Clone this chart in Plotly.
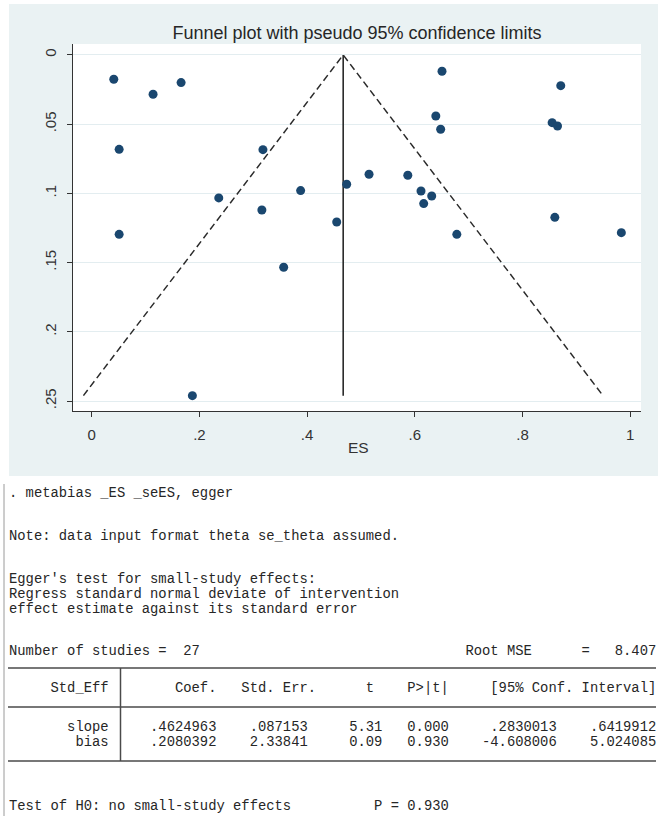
import plotly.graph_objects as go

# ---------------- data ----------------
es = [0.041, 0.114, 0.166, 0.051, 0.318, 0.236, 0.316, 0.388, 0.051,
      0.6505, 0.871, 0.639, 0.648, 0.855, 0.865, 0.4735, 0.515, 0.587,
      0.6115, 0.6314, 0.6165, 0.455, 0.678, 0.860, 0.9835, 0.3565, 0.187]
se_es = [0.0176, 0.0284, 0.0200, 0.0682, 0.0684, 0.1033, 0.1120, 0.0980, 0.1296,
         0.0118, 0.0222, 0.0441, 0.0537, 0.0489, 0.0513, 0.0934, 0.0862, 0.0869,
         0.0983, 0.1019, 0.1074, 0.1207, 0.1296, 0.1173, 0.1284, 0.1534, 0.2461]
pooled_es = 0.467
z95 = 1.96

x_tickvals = [0, 0.2, 0.4, 0.6, 0.8, 1.0]
x_ticktext = ["0", ".2", ".4", ".6", ".8", "1"]
y_tickvals = [0, 0.05, 0.1, 0.15, 0.2, 0.25]
y_ticktext = ["0", ".05", ".1", ".15", ".2", ".25"]

title_text = "Funnel plot with pseudo 95% confidence limits"
x_title = "ES"

# Stata output (Egger test)
cmd_line = ". metabias _ES _seES, egger"
note_line = "Note: data input format theta se_theta assumed."
egger_lines = ["Egger's test for small-study effects:",
               "Regress standard normal deviate of intervention",
               "effect estimate against its standard error"]
n_studies = 27
root_mse = "8.407"
row_names = ["slope", "bias"]
coef = [".4624963", ".2080392"]
std_err = [".087153", "2.33841"]
t_stat = ["5.31", "0.09"]
p_val = ["0.000", "0.930"]
ci_lo = [".2830013", "-4.608006"]
ci_hi = [".6419912", "5.024085"]
h0_text = "Test of H0: no small-study effects"
h0_p = "P = 0.930"

# ---------------- geometry helpers ----------------
W, H = 662, 821
L, R, T, B = 73, 641, 44, 411
PW, PH = R - L, B - T


def px(xp):
    return (xp - L) / PW


def py(yp):
    return (B - yp) / PH


NAVY = "#1a476f"
BG = "#eaf2f3"
INK = "#2a2a2a"

fig = go.Figure()

# funnel limits and pooled line
m = max(se_es)
fig.add_trace(go.Scatter(
    x=[pooled_es - z95 * m, pooled_es, pooled_es + z95 * m],
    y=[m, 0, m], mode="lines",
    line=dict(color=INK, width=1.5, dash="7px,4px"), hoverinfo="skip"))
fig.add_trace(go.Scatter(
    x=[pooled_es, pooled_es], y=[0, m], mode="lines",
    line=dict(color=INK, width=1.6), hoverinfo="skip"))
fig.add_trace(go.Scatter(
    x=es, y=se_es, mode="markers",
    marker=dict(color=NAVY, size=9, line=dict(width=0))))

shapes = []
# Stata graph region (light blue) and white plot region
shapes.append(dict(type="rect", xref="paper", yref="paper", layer="below",
                   x0=px(9), x1=px(658), y0=py(476), y1=py(4),
                   fillcolor=BG, line=dict(width=0)))
shapes.append(dict(type="rect", xref="paper", yref="paper", layer="below",
                   x0=0, x1=1, y0=0, y1=1,
                   fillcolor="white", line=dict(width=0)))

# Stata results window left border
shapes.append(dict(type="line", xref="paper", yref="paper",
                   x0=px(4), x1=px(4), y0=py(484), y1=py(816),
                   line=dict(color="#9a9a9a", width=1)))

# table rules
TL = "#4a4a4a"
for yl in (668, 707, 761):
    shapes.append(dict(type="line", xref="paper", yref="paper",
                       x0=px(8), x1=px(656), y0=py(yl), y1=py(yl),
                       line=dict(color=TL, width=1.5)))
shapes.append(dict(type="line", xref="paper", yref="paper",
                   x0=px(120.5), x1=px(120.5), y0=py(668), y1=py(761),
                   line=dict(color=TL, width=1.5)))

# ---------------- text output ----------------
header = f"{'Std_Eff':>12}  " + "      Coef." + "   Std. Err." + "      t" + "    P>|t|" + "     [95% Conf. Interval]"
rows = [f"{row_names[i]:>12}  {coef[i]:>11}{std_err[i]:>11}{t_stat[i]:>9}{p_val[i]:>8}{ci_lo[i]:>13}{ci_hi[i]:>12}"
        for i in range(len(row_names))]
number_line = f"Number of studies =  {n_studies}".ljust(55) + "Root MSE".ljust(14) + "=" + root_mse.rjust(8)
test_line = h0_text.ljust(44) + h0_p

text_lines = [
    (cmd_line, 493),
    (note_line, 536),
    (egger_lines[0], 579),
    (egger_lines[1], 594),
    (egger_lines[2], 609),
    (number_line, 651),
    (header, 688),
    (rows[0], 727),
    (rows[1], 742),
    (test_line, 806),
]

annotations = []
for txt, yy in text_lines:
    annotations.append(dict(
        text=txt.replace(" ", "\u00a0"), xref="paper", yref="paper",
        x=px(7), y=py(yy), xanchor="left", yanchor="middle", showarrow=False,
        font=dict(family="Liberation Mono, Courier New, monospace", size=13.83, color="#262626")))

annotations.append(dict(
    text=x_title, xref="paper", yref="paper", x=px(358), y=py(447),
    xanchor="center", yanchor="middle", showarrow=False,
    font=dict(family="Liberation Sans, Arial, sans-serif", size=15.5, color="#333333")))

fig.update_layout(
    width=W, height=H,
    margin=dict(l=L, r=W - R, t=T, b=H - B, autoexpand=False),
    paper_bgcolor="white", plot_bgcolor="white",
    showlegend=False,
    title=dict(text=title_text, x=357 / W, y=1 - 33 / H, xanchor="center", yanchor="middle",
               xref="container", yref="container",
               font=dict(family="Liberation Sans, Arial, sans-serif", size=18, color="#262626")),
    shapes=shapes, annotations=annotations,
    xaxis=dict(range=[-0.0347, 1.020], tickvals=x_tickvals, ticktext=x_ticktext,
               showgrid=False, zeroline=False, showline=True, linecolor="#333333", linewidth=1,
               ticks="outside", ticklen=5, tickcolor="#333333", ticklabelstandoff=5,
               tickfont=dict(family="Liberation Sans, Arial, sans-serif", size=15, color="#333333")),
    yaxis=dict(range=[0.2572, -0.0079], tickvals=y_tickvals, ticktext=y_ticktext,
               showgrid=True, gridcolor="#e3edf0", gridwidth=1, zeroline=False,
               showline=True, linecolor="#333333", linewidth=1,
               ticks="outside", ticklen=5, tickcolor="#333333", tickangle=-90, ticklabelstandoff=5,
               tickfont=dict(family="Liberation Sans, Arial, sans-serif", size=15, color="#333333")),
)

fig.write_html("out.html", config={"displayModeBar": False},
               post_script="document.body.style.margin='0';document.body.style.overflow='hidden';")
